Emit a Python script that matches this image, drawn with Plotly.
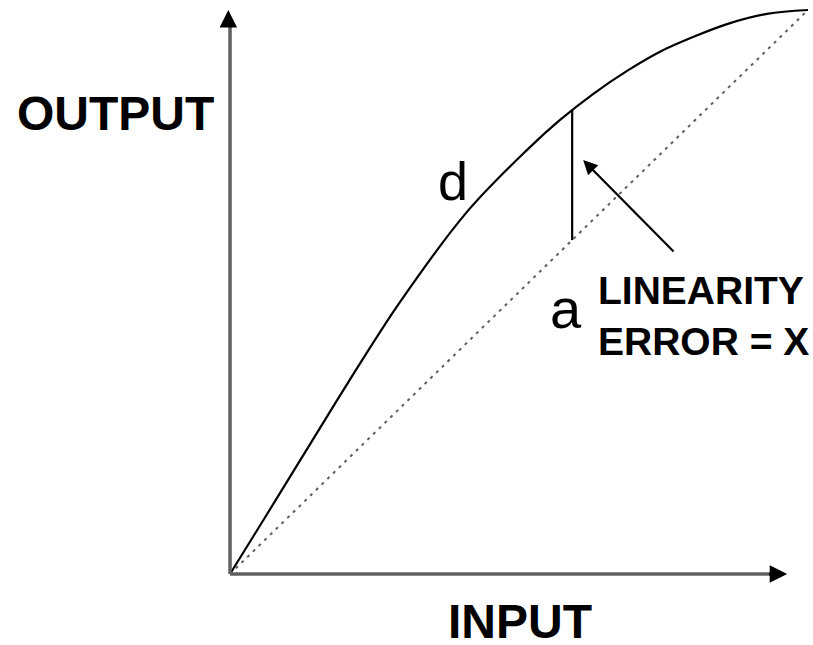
import plotly.graph_objs as go

# transfer curve (normalised input / output)
input_vals = [0, 0.061, 0.130, 0.204, 0.294, 0.410, 0.514, 0.571, 0.628,
              0.687, 0.744, 0.801, 0.860, 0.929, 1.0]
output_vals = [0, 0.101, 0.216, 0.339, 0.482, 0.642, 0.752, 0.805, 0.851,
               0.892, 0.926, 0.952, 0.975, 0.993, 1.0]

# ideal straight line between the end points
ideal_x = [0, 1.0]
ideal_y = [0, 1.0]

# where the linearity error is marked
error_x = 0.592
error_curve = 0.823

axis_font = "Liberation Sans, Arial, sans-serif"

data = [
    go.Scatter(x=ideal_x, y=ideal_y, mode="lines",
               line=dict(color="#5e5e5e", width=2, dash="3px,5px"),
               hoverinfo="skip"),
    go.Scatter(x=input_vals, y=output_vals, mode="lines",
               line=dict(color="black", width=2.2, shape="spline", smoothing=1),
               hoverinfo="skip"),
    go.Scatter(x=[error_x, error_x], y=[error_x, error_curve], mode="lines",
               line=dict(color="black", width=2.2), hoverinfo="skip"),
]

shapes = [
    # axes
    dict(type="line", xref="x", yref="y", x0=0, y0=0, x1=0, y1=0.985,
         line=dict(color="#606060", width=3.5)),
    dict(type="line", xref="x", yref="y", x0=0, y0=0, x1=0.95, y1=0,
         line=dict(color="#606060", width=3.5)),
]

annotations = [
    # axis arrow heads
    dict(x=-0.003, y=1.0, ax=-0.003, ay=0.97, xref="x", yref="y", axref="x", ayref="y",
         text="", showarrow=True, arrowhead=2, arrowsize=1.4, arrowwidth=2.5,
         arrowcolor="black"),
    dict(x=0.964, y=0.0, ax=0.93, ay=0.0, xref="x", yref="y", axref="x", ayref="y",
         text="", showarrow=True, arrowhead=2, arrowsize=1.4, arrowwidth=2.5,
         arrowcolor="black"),
    # linearity error pointer
    dict(x=0.611, y=0.734, ax=0.770, ay=0.569, xref="x", yref="y", axref="x", ayref="y",
         text="", showarrow=True, arrowhead=2, arrowsize=1.3, arrowwidth=2.2,
         arrowcolor="black"),
    # labels
    dict(x=-0.199, y=0.817, xref="x", yref="y", text="<b>OUTPUT</b>", showarrow=False,
         font=dict(family=axis_font, size=48, color="black")),
    dict(x=0.502, y=-0.083, xref="x", yref="y", text="<b>INPUT</b>", showarrow=False,
         height=44, valign="middle",
         font=dict(family=axis_font, size=48, color="black")),
    dict(x=0.633, y=0.457, xref="x", yref="y", text="<b>LINEARITY<br>ERROR = X</b>",
         showarrow=False, xanchor="left", align="left",
         font=dict(family=axis_font, size=39, color="black")),
    dict(x=0.386, y=0.697, xref="x", yref="y", text="d", showarrow=False,
         font=dict(family=axis_font, size=54, color="black")),
    dict(x=0.581, y=0.47, xref="x", yref="y", text="a", showarrow=False,
         font=dict(family=axis_font, size=56, color="black")),
]

layout = dict(
    width=813, height=645,
    margin=dict(l=0, r=0, t=0, b=0),
    paper_bgcolor="white", plot_bgcolor="white",
    showlegend=False,
    xaxis=dict(range=[-0.398, 1.0087], visible=False, fixedrange=True),
    yaxis=dict(range=[-0.1259, 1.0177], visible=False, fixedrange=True),
    shapes=shapes,
    annotations=annotations,
)

fig = go.Figure(data=data, layout=layout)
# page has a default body margin; drop it so the figure sits at the corner
fig.write_html("out.html", config=dict(displayModeBar=False),
               post_script="document.body.style.margin='0';")
